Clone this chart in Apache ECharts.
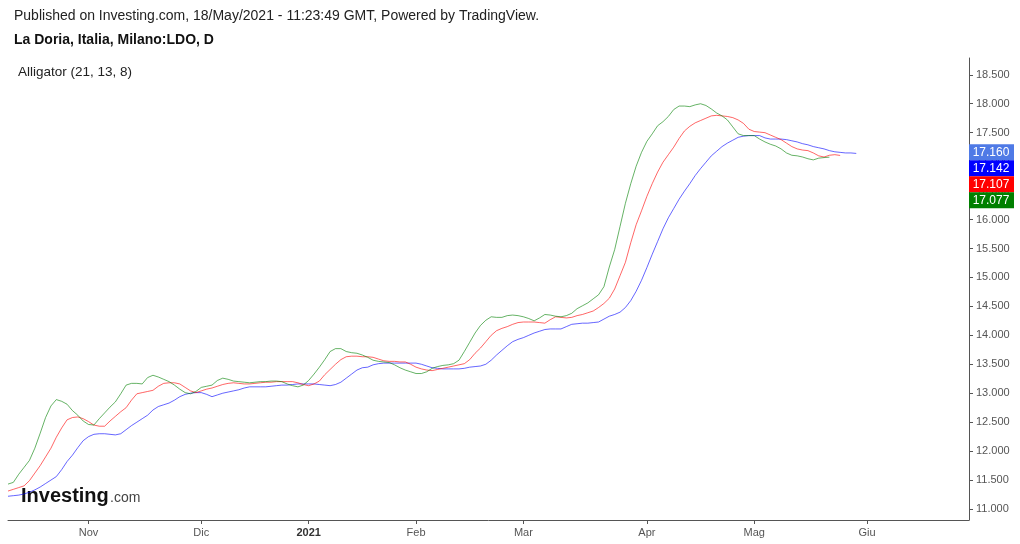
<!DOCTYPE html>
<html><head><meta charset="utf-8">
<script src="https://cdn.jsdelivr.net/npm/echarts@6/dist/echarts.min.js"></script>
<style>html,body{margin:0;padding:0;background:#fff}#c{width:1020px;height:544px}</style>
</head><body><div id="c"></div>
<script>
// Trading-day calendar (Borsa Italiana), Oct 2020 - Jun 2021
const startDate = '2020-10-12';
const endDate = '2021-06-28';
const holidays = ['2020-12-24','2020-12-25','2020-12-31','2021-01-01','2021-04-02','2021-04-05'];
const monthNames = ['Gen','Feb','Mar','Apr','Mag','Giu','Lug','Ago','Set','Ott','Nov','Dic'];
const yTicks = [11,11.5,12,12.5,13,13.5,14,14.5,15,15.5,16,16.5,17,17.5,18,18.5];

// Alligator (21, 13, 8) lines
const jaw = [11.22,11.23,11.24,11.26,11.29,11.33,11.38,11.44,11.50,11.56,
11.68,11.82,11.93,12.06,12.18,12.25,12.29,12.30,12.30,12.29,
12.28,12.30,12.37,12.44,12.50,12.56,12.62,12.71,12.77,12.80,
12.83,12.88,12.94,12.98,13.00,13.01,13.01,12.98,12.94,12.97,
13.00,13.02,13.04,13.06,13.09,13.11,13.11,13.11,13.11,13.12,
13.13,13.14,13.14,13.15,13.16,13.16,13.16,13.16,13.15,13.14,
13.13,13.15,13.19,13.26,13.33,13.40,13.44,13.45,13.49,13.51,
13.52,13.52,13.52,13.52,13.52,13.52,13.52,13.50,13.47,13.44,
13.43,13.42,13.42,13.42,13.42,13.43,13.45,13.46,13.47,13.50,
13.57,13.66,13.74,13.82,13.89,13.93,13.96,14.00,14.04,14.07,
14.10,14.11,14.11,14.11,14.15,14.19,14.20,14.21,14.21,14.22,
14.23,14.28,14.33,14.36,14.40,14.48,14.60,14.76,14.95,15.17,
15.40,15.62,15.84,16.03,16.19,16.35,16.49,16.62,16.76,16.88,
16.99,17.10,17.18,17.26,17.32,17.37,17.42,17.44,17.45,17.45,
17.45,17.41,17.39,17.39,17.39,17.38,17.36,17.34,17.31,17.29,
17.26,17.24,17.22,17.19,17.17,17.16,17.15,17.15,17.142];
const teeth = [11.31,11.34,11.37,11.40,11.49,11.62,11.75,11.90,12.05,12.24,
12.40,12.54,12.58,12.59,12.56,12.51,12.45,12.43,12.43,12.52,
12.60,12.68,12.75,12.88,12.99,13.01,13.03,13.05,13.12,13.17,
13.18,13.18,13.16,13.10,13.04,13.01,13.04,13.07,13.09,13.12,
13.15,13.17,13.18,13.17,13.16,13.16,13.17,13.18,13.19,13.19,
13.20,13.20,13.20,13.20,13.18,13.15,13.13,13.16,13.21,13.32,
13.41,13.50,13.58,13.63,13.64,13.64,13.63,13.63,13.62,13.59,
13.56,13.55,13.55,13.54,13.54,13.50,13.45,13.42,13.40,13.39,
13.41,13.43,13.45,13.47,13.49,13.51,13.58,13.69,13.78,13.89,
14.00,14.08,14.12,14.15,14.19,14.22,14.23,14.23,14.23,14.22,
14.21,14.27,14.32,14.31,14.30,14.31,14.34,14.36,14.39,14.42,
14.48,14.55,14.64,14.80,15.03,15.26,15.60,15.91,16.15,16.40,
16.62,16.82,16.99,17.12,17.25,17.40,17.53,17.61,17.67,17.71,
17.75,17.79,17.80,17.79,17.78,17.76,17.72,17.66,17.56,17.52,
17.51,17.50,17.46,17.42,17.38,17.32,17.26,17.22,17.20,17.19,
17.15,17.10,17.08,17.11,17.12,17.107];
const lips = [11.43,11.46,11.60,11.72,11.84,12.05,12.31,12.58,12.78,12.89,
12.86,12.81,12.70,12.62,12.52,12.46,12.45,12.56,12.66,12.76,
12.85,12.99,13.14,13.17,13.17,13.16,13.27,13.31,13.28,13.24,
13.20,13.14,13.07,13.01,12.99,13.03,13.10,13.12,13.14,13.22,
13.26,13.24,13.21,13.20,13.19,13.18,13.19,13.20,13.20,13.21,
13.21,13.20,13.16,13.13,13.11,13.14,13.22,13.33,13.45,13.58,
13.72,13.77,13.77,13.72,13.70,13.69,13.66,13.62,13.57,13.55,
13.54,13.53,13.49,13.44,13.40,13.37,13.34,13.34,13.37,13.43,
13.46,13.48,13.49,13.51,13.57,13.72,13.88,14.04,14.17,14.26,
14.32,14.31,14.31,14.34,14.35,14.34,14.32,14.29,14.25,14.30,
14.36,14.35,14.33,14.32,14.34,14.38,14.46,14.51,14.56,14.63,
14.70,14.84,15.18,15.48,15.88,16.28,16.62,16.92,17.16,17.35,
17.48,17.62,17.69,17.78,17.90,17.96,17.96,17.95,17.98,18.00,
17.97,17.91,17.84,17.79,17.72,17.60,17.48,17.45,17.45,17.45,
17.39,17.34,17.30,17.27,17.22,17.15,17.11,17.10,17.08,17.05,
17.03,17.06,17.07,17.077];

// last-value badges on the price scale
const badgeValues = [17.160, 17.142, 17.107, 17.077];
const badgeColors = ['#4f7ae6', '#0000ff', '#ff0000', '#008000'];

// build categories
const categories = [];
(function(){
  let d = new Date(startDate + 'T00:00:00Z');
  const end = new Date(endDate + 'T00:00:00Z');
  while (d <= end) {
    const s = d.toISOString().slice(0,10);
    const wd = d.getUTCDay();
    if (wd !== 0 && wd !== 6 && holidays.indexOf(s) < 0) categories.push(s);
    d = new Date(d.getTime() + 86400000);
  }
})();
const isMonthStart = categories.map((s,i) => i > 0 && s.slice(5,7) !== categories[i-1].slice(5,7));

const chart = echarts.init(document.getElementById('c'), null, {renderer:'canvas'});
const FONT = '"Liberation Sans", Arial, sans-serif';
chart.setOption({
  animation: false,
  backgroundColor: '#ffffff',
  textStyle: {fontFamily: FONT},
  grid: {left: 8, right: 51, top: 58, bottom: 24, containLabel: false},
  xAxis: {
    type: 'category', data: categories, boundaryGap: false,
    axisLine: {show: true, lineStyle: {color: '#555', width: 1}},
    axisTick: {show: true, length: 4, interval: (i) => isMonthStart[i], lineStyle: {color: '#555'}},
    axisLabel: {
      interval: (i) => isMonthStart[i], color: '#555', fontSize: 11, margin: 7, fontFamily: FONT,
      formatter: (v) => {
        const m = parseInt(v.slice(5,7), 10) - 1;
        if (m === 0) return '{y|' + v.slice(0,4) + '}';
        return monthNames[m];
      },
      rich: {y: {fontWeight: 'bold', color: '#333', fontSize: 11, fontFamily: FONT}}
    },
    splitLine: {show: false}
  },
  yAxis: {
    type: 'value', position: 'right', min: 10.81, max: 18.79, scale: true,
    axisLine: {show: true, lineStyle: {color: '#555', width: 1}},
    axisTick: {show: true, length: 4, customValues: yTicks, lineStyle: {color: '#555'}},
    axisLabel: {customValues: yTicks, color: '#555', fontSize: 11, margin: 7, fontFamily: FONT,
      formatter: (v) => v.toFixed(3)},
    splitLine: {show: false}
  },
  series: [
    {name: 'Jaw', type: 'line', data: jaw, showSymbol: false, symbol: 'none',
      lineStyle: {color: '#0000ff', width: 1, opacity: 0.6}},
    {name: 'Teeth', type: 'line', data: teeth, showSymbol: false, symbol: 'none',
      lineStyle: {color: '#ff0000', width: 1, opacity: 0.6}},
    {name: 'Lips', type: 'line', data: lips, showSymbol: false, symbol: 'none',
      lineStyle: {color: '#008000', width: 1, opacity: 0.6}}
  ]
});

const y0 = chart.convertToPixel({yAxisIndex: 0}, badgeValues[0]);
const xAxisRight = 1020 - 51;
const graphics = [
  {type: 'text', left: 14, top: 9, style: {text: 'Published on Investing.com, 18/May/2021 - 11:23:49 GMT, Powered by TradingView.', font: '14px ' + FONT, fill: '#222'}},
  {type: 'text', left: 14, top: 33, style: {text: 'La Doria, Italia, Milano:LDO, D', font: 'bold 14px ' + FONT, fill: '#111'}},
  {type: 'text', left: 18, top: 65, style: {text: 'Alligator (21, 13, 8)', font: '13.5px ' + FONT, fill: '#222'}},
  {type: 'text', left: 21, top: 486, style: {text: 'Investing', font: 'bold 20px ' + FONT, fill: '#111'}},
  {type: 'text', left: 110, top: 491, style: {text: '.com', font: '14px ' + FONT, fill: '#444'}}
];
badgeValues.forEach((v, k) => {
  const yc = y0 + k * 16;
  graphics.push({type: 'rect', shape: {x: xAxisRight, y: yc - 8, width: 45, height: 16}, style: {fill: badgeColors[k]}, z: 10});
  graphics.push({type: 'text', x: xAxisRight + 22, y: yc, style: {text: v.toFixed(3), font: '12px ' + FONT, fill: '#fff', align: 'center', verticalAlign: 'middle'}, z: 11});
});
chart.setOption({graphic: graphics});
</script>
</body></html>
